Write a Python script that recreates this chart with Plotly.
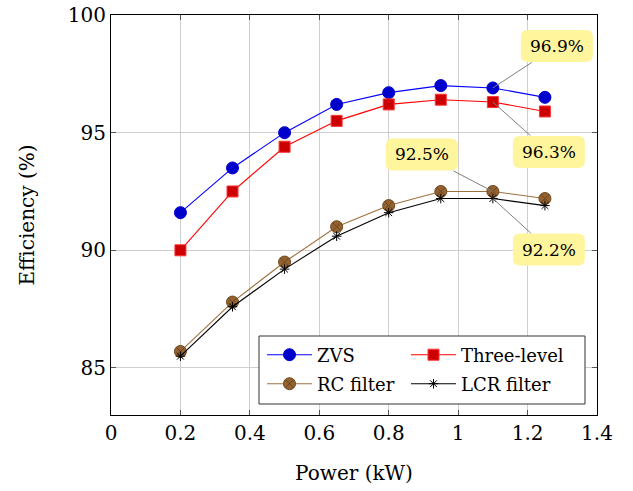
import plotly.graph_objects as go

# Measured efficiency versus output power for four converter variants
power_kw = [0.2, 0.35, 0.5, 0.65, 0.8, 0.95, 1.1, 1.25]
zvs = [91.6, 93.5, 95.0, 96.2, 96.7, 97.0, 96.9, 96.5]
three_level = [90.0, 92.5, 94.4, 95.5, 96.2, 96.4, 96.3, 95.9]
rc_filter = [85.7, 87.8, 89.5, 91.0, 91.9, 92.5, 92.5, 92.2]
lcr_filter = [85.5, 87.6, 89.2, 90.6, 91.6, 92.2, 92.2, 91.9]

x_ticks = [0, 0.2, 0.4, 0.6, 0.8, 1.0, 1.2, 1.4]
y_ticks = [85, 90, 95, 100]

FONT = "DejaVu Serif"

fig = go.Figure()

# one legend per entry so the entries sit in a 2 x 2 grid
series = [
    ("ZVS", zvs, "#0000FF", "#0000CC", "#0000CC", "circle", 12, "legend"),
    ("Three-level", three_level, "#FF0000", "#CC0000", "#FF3333", "square", 11, "legend2"),
    ("RC filter", rc_filter, "#A0703F", "#94622F", "#6B4520", "circle-x", 12, "legend3"),
    ("LCR filter", lcr_filter, "#000000", "#000000", "#000000", "asterisk-open", 8, "legend4"),
]
for name, vals, lc, fc, mlc, sym, sz, lg in series:
    fig.add_trace(go.Scatter(
        x=power_kw, y=vals, name=name, mode="lines+markers",
        line=dict(color=lc, width=1.1),
        marker=dict(symbol=sym, size=sz, color=fc,
                    line=dict(color=mlc, width=1)),
        legend=lg,
    ))

# Callouts at P = 1.1 kW: (series, pixel offset of the label box)
idx = power_kw.index(1.1)
callouts = [
    (zvs, 64, -42),
    (three_level, 56, 50),
    (rc_filter, -71, -37),
    (lcr_filter, 56, 51),
]
box_w, box_h, rad = 72, 32, 7
for vals, ax, ay in callouts:
    val = vals[idx]
    # rounded yellow box, positioned in pixels around the label centre
    cx, cy = ax, -ay
    x0, x1 = cx - box_w / 2, cx + box_w / 2
    y0, y1 = cy - box_h / 2, cy + box_h / 2
    path = (f"M {x0 + rad},{y0} L {x1 - rad},{y0} Q {x1},{y0} {x1},{y0 + rad} "
            f"L {x1},{y1 - rad} Q {x1},{y1} {x1 - rad},{y1} "
            f"L {x0 + rad},{y1} Q {x0},{y1} {x0},{y1 - rad} "
            f"L {x0},{y0 + rad} Q {x0},{y0} {x0 + rad},{y0} Z")
    fig.add_shape(type="path", path=path, xref="x", yref="y",
                  xsizemode="pixel", ysizemode="pixel",
                  xanchor=power_kw[idx], yanchor=val,
                  fillcolor="#FFF59D", line=dict(width=0), layer="above")
    fig.add_annotation(
        x=power_kw[idx], y=val, xref="x", yref="y",
        text=f"{val:.1f}%", showarrow=True, arrowhead=0, arrowwidth=1,
        arrowcolor="#808080", ax=ax, ay=ay, standoff=0,
        width=box_w, height=box_h, borderpad=0,
        font=dict(family=FONT, size=17, color="black"),
    )

# Frame around the legend grid
fig.add_shape(type="rect", xref="paper", yref="paper",
              x0=0.3045, x1=0.9753, y0=0.0275, y1=0.1975,
              fillcolor="white", line=dict(color="#333333", width=1), layer="above")

axis_common = dict(
    showline=True, linecolor="black", linewidth=1, mirror="ticks",
    ticks="inside", ticklen=5, tickcolor="#555555", tickwidth=1,
    showgrid=True, gridcolor="#CFCFCF", gridwidth=1, zeroline=False,
    tickfont=dict(family=FONT, size=20, color="black"),
    automargin=False,
)

fig.update_xaxes(
    range=[0, 1.4], tickvals=x_ticks,
    ticktext=[f"{v:g}" for v in x_ticks],
    title=dict(text="Power (kW)", font=dict(family=FONT, size=20, color="black"),
               standoff=21),
    **axis_common,
)
fig.update_yaxes(
    range=[83, 100], tickvals=y_ticks,
    title=dict(text="Efficiency (%)", font=dict(family=FONT, size=20, color="black"),
               standoff=27),
    **axis_common,
)

legend_common = dict(
    orientation="v", xanchor="left", yanchor="middle",
    bgcolor="rgba(0,0,0,0)", borderwidth=0,
    font=dict(family=FONT, size=18, color="black"),
    itemwidth=45,
)

fig.update_layout(
    width=633, height=491,
    margin=dict(l=111, r=36, t=15, b=76),
    paper_bgcolor="white", plot_bgcolor="white",
    font=dict(family=FONT, color="black"),
    showlegend=True,
    legend=dict(x=0.3107, y=0.15, **legend_common),
    legend2=dict(x=0.607, y=0.15, **legend_common),
    legend3=dict(x=0.3107, y=0.0775, **legend_common),
    legend4=dict(x=0.607, y=0.0775, **legend_common),
)

fig.write_html("out.html")
